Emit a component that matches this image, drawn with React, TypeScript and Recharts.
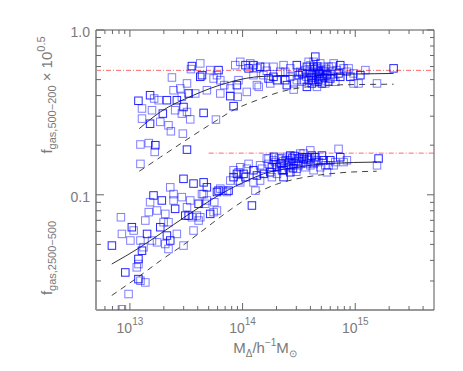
import { ComposedChart, Line, Scatter, XAxis, YAxis } from "recharts";

// halo mass (h^-1 Msun) vs gas fraction
const upperPoints: [number, number][] = [
  [1.19e13, 0.372], [1.28e13, 0.334], [1.28e13, 0.29], [1.51e13, 0.402], [1.64e13, 0.384],
  [1.57e13, 0.326], [1.51e13, 0.27], [1.8e13, 0.375], [1.86e13, 0.277], [2.13e13, 0.375],
  [2.2e13, 0.264], [2.31e13, 0.243], [1.96e13, 0.311], [2.44e13, 0.431], [2.52e13, 0.326],
  [2.61e13, 0.375], [2.8e13, 0.442], [2.89e13, 0.393], [2.99e13, 0.341], [2.89e13, 0.311],
  [3.21e13, 0.474], [3.32e13, 0.412], [3.21e13, 0.318], [3.43e13, 0.287], [3.55e13, 0.604],
  [4.21e13, 0.627], [3.48e13, 0.579], [4.36e13, 0.532], [2.36e13, 0.515], [2.95e13, 0.235],
  [3.21e13, 0.188], [1.24e13, 0.202], [1.47e13, 0.206], [1.68e13, 0.2], [1.66e13, 0.182],
  [1.24e13, 0.154], [4.51e13, 0.314], [5.8e13, 0.286], [5.16e13, 0.571], [6.12e13, 0.571],
  [6.34e13, 0.496], [7.78e13, 0.442], [8.32e13, 0.345], [9.04e13, 0.393], [9.53e13, 0.641],
  [1.06e14, 0.612], [1.09e14, 0.421], [1.17e14, 0.627], [1.25e14, 0.612], [1.34e14, 0.585],
  [1.39e14, 0.452], [1.43e14, 0.598], [1.59e14, 0.598], [1.64e14, 0.566], [1.7e14, 0.508],
  [1.76e14, 0.474], [1.88e14, 0.598], [2.02e14, 0.496], [2.31e14, 0.612], [2.39e14, 0.558],
  [2.47e14, 0.463], [2.65e14, 0.52], [2.84e14, 0.435], [3.03e14, 0.612], [3.25e14, 0.558],
  [3.48e14, 0.496], [3.72e14, 0.598], [3.99e14, 0.545], [4.27e14, 0.641], [4.42e14, 0.689],
  [4.57e14, 0.585], [4.89e14, 0.52], [5.06e14, 0.474], [5.42e14, 0.558], [5.8e14, 0.598],
  [6.0e14, 0.508], [6.43e14, 0.627], [6.87e14, 0.571], [7.36e14, 0.52], [7.88e14, 0.585],
  [8.73e14, 0.585], [9.04e14, 0.52], [9.66e14, 0.545], [1.07e15, 0.474], [1.11e15, 0.532],
  [1.23e15, 0.571], [1.56e15, 0.474], [2.19e15, 0.585], [5.53e13, 0.508], [6.87e13, 0.463],
  [7.78e13, 0.397], [9.2e13, 0.496], [4.82e13, 0.431], [4.21e13, 0.52], [3.8e13, 0.412],
  [6.34e13, 0.412], [8.9e13, 0.463], [5.92e13, 0.532], [2.84e14, 0.474], [3.15e14, 0.532],
  [3.36e14, 0.485], [3.6e14, 0.571], [3.86e14, 0.496], [4.12e14, 0.532], [4.42e14, 0.485],
  [4.73e14, 0.558], [5.06e14, 0.508], [5.24e14, 0.598], [5.6e14, 0.532], [6.21e14, 0.558],
  [6.65e14, 0.485], [7.11e14, 0.545], [8.43e14, 0.558], [4.57e14, 0.452], [3.72e14, 0.452],
  [5.8e14, 0.485], [6.43e14, 0.52], [4.27e14, 0.598], [4.89e14, 0.627], [3.86e14, 0.641],
  [7.36e14, 0.612], [2.65e14, 0.585], [2.16e14, 0.558], [1.88e14, 0.52], [1.53e14, 0.532],
  [1.25e14, 0.532], [1.13e14, 0.585], [8.61e13, 0.612], [1.34e14, 0.463], [2.39e14, 0.496],
  [9.66e14, 0.474], [3.03e14, 0.496], [4.12e14, 0.474], [5.42e14, 0.474],
  [3.9e14, 0.56], [4.1e14, 0.515], [4.3e14, 0.55], [4.5e14, 0.53], [4.7e14, 0.5],
  [4.9e14, 0.57], [5.1e14, 0.54], [5.3e14, 0.515], [5.5e14, 0.58], [4.0e14, 0.61],
  [4.6e14, 0.6], [5.0e14, 0.49], [3.7e14, 0.52], [4.8e14, 0.545], [5.7e14, 0.545],
  [6.2e14, 0.6], [3.4e14, 0.545], [4.4e14, 0.575], [5.2e14, 0.565], [4.2e14, 0.495],
];

const lowerPoints: [number, number][] = [
  [6.92e12, 0.0492], [8.32e12, 0.0731], [8.49e12, 0.0579], [9.1e12, 0.0338], [9.73e12, 0.025],
  [1.01e13, 0.0528], [1.04e13, 0.0636], [1.08e13, 0.0607], [1.15e13, 0.0363], [1.19e13, 0.0308],
  [1.24e13, 0.0301], [1.37e13, 0.0294], [1.19e13, 0.0408], [1.24e13, 0.0528], [1.32e13, 0.0481],
  [1.42e13, 0.0579], [1.37e13, 0.0698], [1.47e13, 0.0785], [1.62e13, 0.0991], [1.51e13, 0.0902],
  [1.74e13, 0.0803], [1.92e13, 0.0924], [1.99e13, 0.0682], [2.06e13, 0.0766], [2.13e13, 0.0566],
  [2.06e13, 0.0503], [2.2e13, 0.0469], [2.28e13, 0.0528], [2.44e13, 0.101], [2.44e13, 0.0924],
  [2.52e13, 0.0822], [2.61e13, 0.0579], [2.89e13, 0.0968], [2.99e13, 0.125], [2.99e13, 0.0492],
  [3.21e13, 0.0841], [3.32e13, 0.0748], [3.43e13, 0.0924], [3.55e13, 0.0731], [3.67e13, 0.117],
  [3.67e13, 0.0607], [3.93e13, 0.0748], [4.07e13, 0.0882], [4.21e13, 0.0731], [4.36e13, 0.101],
  [4.51e13, 0.119], [4.66e13, 0.0882], [4.82e13, 0.0924], [5.16e13, 0.0766], [5.53e13, 0.0785],
  [5.92e13, 0.0803], [6.12e13, 0.106], [6.34e13, 0.109], [7.26e13, 0.104], [7.51e13, 0.106],
  [7.78e13, 0.122], [8.32e13, 0.141], [8.91e13, 0.134], [9.21e13, 0.122], [9.53e13, 0.147],
  [1.02e14, 0.134], [1.09e14, 0.144], [1.13e14, 0.154], [1.21e14, 0.0861], [1.25e14, 0.119],
  [1.3e14, 0.106], [1.34e14, 0.131], [1.43e14, 0.122], [1.49e14, 0.144], [1.54e14, 0.134],
  [1.64e14, 0.166], [1.7e14, 0.154], [1.76e14, 0.137], [1.82e14, 0.128], [1.88e14, 0.162],
  [2.02e14, 0.147], [2.16e14, 0.154], [2.24e14, 0.166], [2.31e14, 0.141], [2.47e14, 0.151],
  [2.56e14, 0.162], [2.65e14, 0.173], [2.84e14, 0.154], [3.03e14, 0.144], [3.14e14, 0.166],
  [3.25e14, 0.178], [3.48e14, 0.158], [3.72e14, 0.169], [3.99e14, 0.186], [4.27e14, 0.154],
  [4.42e14, 0.169], [4.57e14, 0.162], [4.89e14, 0.147], [5.06e14, 0.173], [5.42e14, 0.151],
  [5.61e14, 0.137], [6.0e14, 0.162], [6.43e14, 0.151], [7.11e14, 0.19], [7.36e14, 0.169],
  [7.88e14, 0.158], [8.43e14, 0.162], [1.61e15, 0.166], [1.56e15, 0.151], [1.19e13, 0.038],
  [1.28e13, 0.0458], [1.57e13, 0.0528], [1.74e13, 0.0515], [1.86e13, 0.0636], [2.2e13, 0.0682],
  [2.28e13, 0.111], [3.1e13, 0.0748], [4.07e13, 0.0698], [4.51e13, 0.101], [4.82e13, 0.111],
  [5.61e13, 0.0902], [6.69e13, 0.106], [8.32e13, 0.128], [9.53e13, 0.119], [1.06e14, 0.128],
  [5.92e13, 0.104], [8.49e12, 0.0202], [1.7e14, 0.166], [1.82e14, 0.147], [1.94e14, 0.158],
  [2.1e14, 0.166], [2.24e14, 0.141], [2.4e14, 0.162], [2.56e14, 0.147], [2.75e14, 0.166],
  [2.94e14, 0.158], [3.14e14, 0.151], [3.36e14, 0.169], [3.6e14, 0.147], [3.86e14, 0.162],
  [4.12e14, 0.173], [4.27e14, 0.141], [4.73e14, 0.158], [5.24e14, 0.162], [5.8e14, 0.151],
  [2.02e14, 0.134], [2.65e14, 0.137], [3.48e14, 0.178], [1.43e14, 0.151], [1.25e14, 0.141],
  [1.06e14, 0.128], [9.2e13, 0.137], [2.31e14, 0.128], [6.65e14, 0.158], [3.99e14, 0.151],
  [2.2e14, 0.155], [2.5e14, 0.17], [2.7e14, 0.15], [2.9e14, 0.172], [3.1e14, 0.16],
  [3.3e14, 0.154], [3.5e14, 0.165], [3.7e14, 0.155], [2.3e14, 0.16], [2.6e14, 0.158],
  [3.0e14, 0.138], [4.0e14, 0.165], [1.9e14, 0.17], [2.0e14, 0.152], [4.4e14, 0.158],
  [2.8e14, 0.145],
];

const upperSolid: [number, number][] = [
  [1.21e13, 0.252], [1.86e13, 0.318], [3.67e13, 0.402], [5.15e13, 0.442], [8.26e13, 0.489],
  [1.09e14, 0.51], [1.43e14, 0.522], [4e14, 0.534], [1.03e15, 0.541], [2.19e15, 0.545],
];
const upperDashed: [number, number][] = [
  [1.21e13, 0.139], [1.86e13, 0.169], [3.67e13, 0.23], [5.9e13, 0.283], [8.26e13, 0.326],
  [1.34e14, 0.375], [2.16e14, 0.421], [3.72e14, 0.452], [5.98e14, 0.463], [2.19e15, 0.469],
];
const lowerSolid: [number, number][] = [
  [6.9e12, 0.038], [1.23e13, 0.048], [1.86e13, 0.058], [3.2e13, 0.0748], [5.15e13, 0.0923],
  [7.25e13, 0.106], [1.02e14, 0.119], [1.53e14, 0.134], [3.03e14, 0.147], [5.98e14, 0.155],
  [1.55e15, 0.158],
];
const lowerDashed: [number, number][] = [
  [6.9e12, 0.0245], [1.23e13, 0.0323], [1.86e13, 0.0398], [3.2e13, 0.0514], [4.82e13, 0.0635],
  [7.25e13, 0.0784], [1.09e14, 0.0947], [1.43e14, 0.105], [2.01e14, 0.116], [3.03e14, 0.125],
  [4.89e14, 0.132], [7.35e14, 0.136], [1.55e15, 0.139],
];

// red dash-dot reference levels
const upperLevel: [number, number][] = [[5e12, 0.569], [5e15, 0.569]];
const lowerLevel: [number, number][] = [[5e13, 0.179], [5e15, 0.179]];

const xDomain = [5e12, 5e15];
const yDomain = [0.02, 1];
const xMajorTicks = [1e13, 1e14, 1e15];
const xTickExponents = ["13", "14", "15"];
const xMinorTicks = [
  6e12, 7e12, 8e12, 9e12,
  2e13, 3e13, 4e13, 5e13, 6e13, 7e13, 8e13, 9e13,
  2e14, 3e14, 4e14, 5e14, 6e14, 7e14, 8e14, 9e14,
  2e15, 3e15, 4e15,
];
const yMajorTicks = [0.1, 1];
const yTickLabels = ["0.1", "1.0"];
const yMinorTicks = [
  0.03, 0.04, 0.05, 0.06, 0.07, 0.08, 0.09,
  0.2, 0.3, 0.4, 0.5, 0.6, 0.7, 0.8, 0.9,
];

const rows = (pts: [number, number][]) => pts.map(([m, f]) => ({ m, f }));

const xTicks = [...xMinorTicks, ...xMajorTicks].sort((a, b) => a - b);
const yTicks = [...yMinorTicks, ...yMajorTicks].sort((a, b) => a - b);

const FONT = "'Liberation Sans', Arial, sans-serif";
const GREY = "#7a7a7a";

const BottomTick = (props: any) => {
  const { x, y, payload } = props;
  const i = xMajorTicks.indexOf(payload.value);
  const major = i >= 0;
  return (
    <g>
      <line x1={x} x2={x} y1={y} y2={y - (major ? 7 : 4)} stroke="#666" />
      {major && (
        <text x={x} y={y + 23} textAnchor="middle" fontSize={14} fill={GREY} fontFamily={FONT}>
          10<tspan dy={-8} fontSize={10}>{xTickExponents[i]}</tspan>
        </text>
      )}
    </g>
  );
};

const TopTick = (props: any) => {
  const { x, y, payload } = props;
  const major = xMajorTicks.includes(payload.value);
  return <line x1={x} x2={x} y1={y} y2={y + (major ? 7 : 4)} stroke="#666" />;
};

const LeftTick = (props: any) => {
  const { x, y, payload } = props;
  const i = yMajorTicks.indexOf(payload.value);
  const major = i >= 0;
  return (
    <g>
      <line x1={x} x2={x + (major ? 8 : 5)} y1={y} y2={y} stroke="#666" />
      {major && (
        <text x={x - 6} y={y + 7} textAnchor="end" fontSize={14} fill={GREY} fontFamily={FONT}>
          {yTickLabels[i]}
        </text>
      )}
    </g>
  );
};

const RightTick = (props: any) => {
  const { x, y, payload } = props;
  const major = yMajorTicks.includes(payload.value);
  return <line x1={x} x2={x - (major ? 7 : 4)} y1={y} y2={y} stroke="#666" />;
};

const Square = (props: any) => {
  const { cx, cy, index } = props;
  if (cx == null || cy == null) return null;
  return (
    <rect
      x={cx - 3.75}
      y={cy - 3.75}
      width={7.5}
      height={7.5}
      fill="none"
      stroke="#0000ff"
      strokeOpacity={(index ?? 0) % 3 === 0 ? 0.85 : 0.5}
      strokeWidth={1}
    />
  );
};

export default function App() {
  return (
    <div style={{ position: "absolute", left: 0, top: 0, width: 463, height: 371, background: "#fff" }}>
      <ComposedChart width={463} height={371} margin={{ top: 0, right: 0, bottom: 0, left: 0 }}>
        <XAxis
          dataKey="m"
          type="number"
          scale="log"
          domain={xDomain}
          allowDataOverflow
          ticks={xTicks}
          interval={0}
          height={61}
          tickSize={0}
          tickMargin={0}
          tick={<BottomTick />}
          tickLine={false}
          axisLine={{ stroke: "#999", strokeWidth: 2 }}
        />
        <XAxis
          xAxisId="top"
          orientation="top"
          dataKey="m"
          type="number"
          scale="log"
          domain={xDomain}
          allowDataOverflow
          ticks={xTicks}
          interval={0}
          height={30}
          tickSize={0}
          tickMargin={0}
          tick={<TopTick />}
          tickLine={false}
          axisLine={{ stroke: "#555", strokeWidth: 1 }}
        />
        <YAxis
          dataKey="f"
          type="number"
          scale="log"
          domain={yDomain}
          allowDataOverflow
          ticks={yTicks}
          interval={0}
          width={96}
          tickSize={0}
          tickMargin={0}
          tick={<LeftTick />}
          tickLine={false}
          axisLine={{ stroke: "#999", strokeWidth: 2 }}
        />
        <YAxis
          yAxisId="right"
          orientation="right"
          dataKey="f"
          type="number"
          scale="log"
          domain={yDomain}
          allowDataOverflow
          ticks={yTicks}
          interval={0}
          width={29}
          tickSize={0}
          tickMargin={0}
          tick={<RightTick />}
          tickLine={false}
          axisLine={{ stroke: "#555", strokeWidth: 1 }}
        />
        <Line data={rows(upperLevel)} xAxisId="top" yAxisId="right" dataKey="f" stroke="#ff6a6a" strokeWidth={1} strokeDasharray="5 2 1 2" dot={false} isAnimationActive={false} />
        <Line data={rows(lowerLevel)} xAxisId="top" yAxisId="right" dataKey="f" stroke="#ff6a6a" strokeWidth={1} strokeDasharray="5 2 1 2" dot={false} isAnimationActive={false} />
        <Scatter data={rows(upperPoints)} shape={<Square />} isAnimationActive={false} />
        <Scatter data={rows(lowerPoints)} shape={<Square />} isAnimationActive={false} />
        <Line data={rows(upperSolid)} type="monotone" dataKey="f" stroke="#333" strokeWidth={1} dot={false} isAnimationActive={false} />
        <Line data={rows(upperDashed)} type="monotone" dataKey="f" stroke="#444" strokeWidth={1} strokeDasharray="6 5" dot={false} isAnimationActive={false} />
        <Line data={rows(lowerSolid)} type="monotone" dataKey="f" stroke="#333" strokeWidth={1} dot={false} isAnimationActive={false} />
        <Line data={rows(lowerDashed)} type="monotone" dataKey="f" stroke="#444" strokeWidth={1} strokeDasharray="6 5" dot={false} isAnimationActive={false} />
      </ComposedChart>
      <svg width={463} height={371} style={{ position: "absolute", left: 0, top: 0, pointerEvents: "none" }}>
        <g fontFamily={FONT} fill={GREY}>
          <text transform="translate(52,95) rotate(-90)" textAnchor="middle" fontSize={15}>
            f<tspan dy={4} fontSize={11}>gas,500−200</tspan>
            <tspan dy={-4} fontSize={15}>{"  × 10"}</tspan>
            <tspan dy={-7} fontSize={11}>0.5</tspan>
          </text>
          <text transform="translate(52,258) rotate(-90)" textAnchor="middle" fontSize={15}>
            f<tspan dy={4} fontSize={11}>gas,2500−500</tspan>
          </text>
          <text x={265} y={353} textAnchor="middle" fontSize={15}>
            M<tspan dy={4} fontSize={10}>Δ</tspan>
            <tspan dy={-4}>/h</tspan>
            <tspan dy={-7} fontSize={10}>−1</tspan>
            <tspan dy={7}>M</tspan>
            <tspan dy={4} fontSize={10}>⊙</tspan>
          </text>
        </g>
      </svg>
    </div>
  );
}
